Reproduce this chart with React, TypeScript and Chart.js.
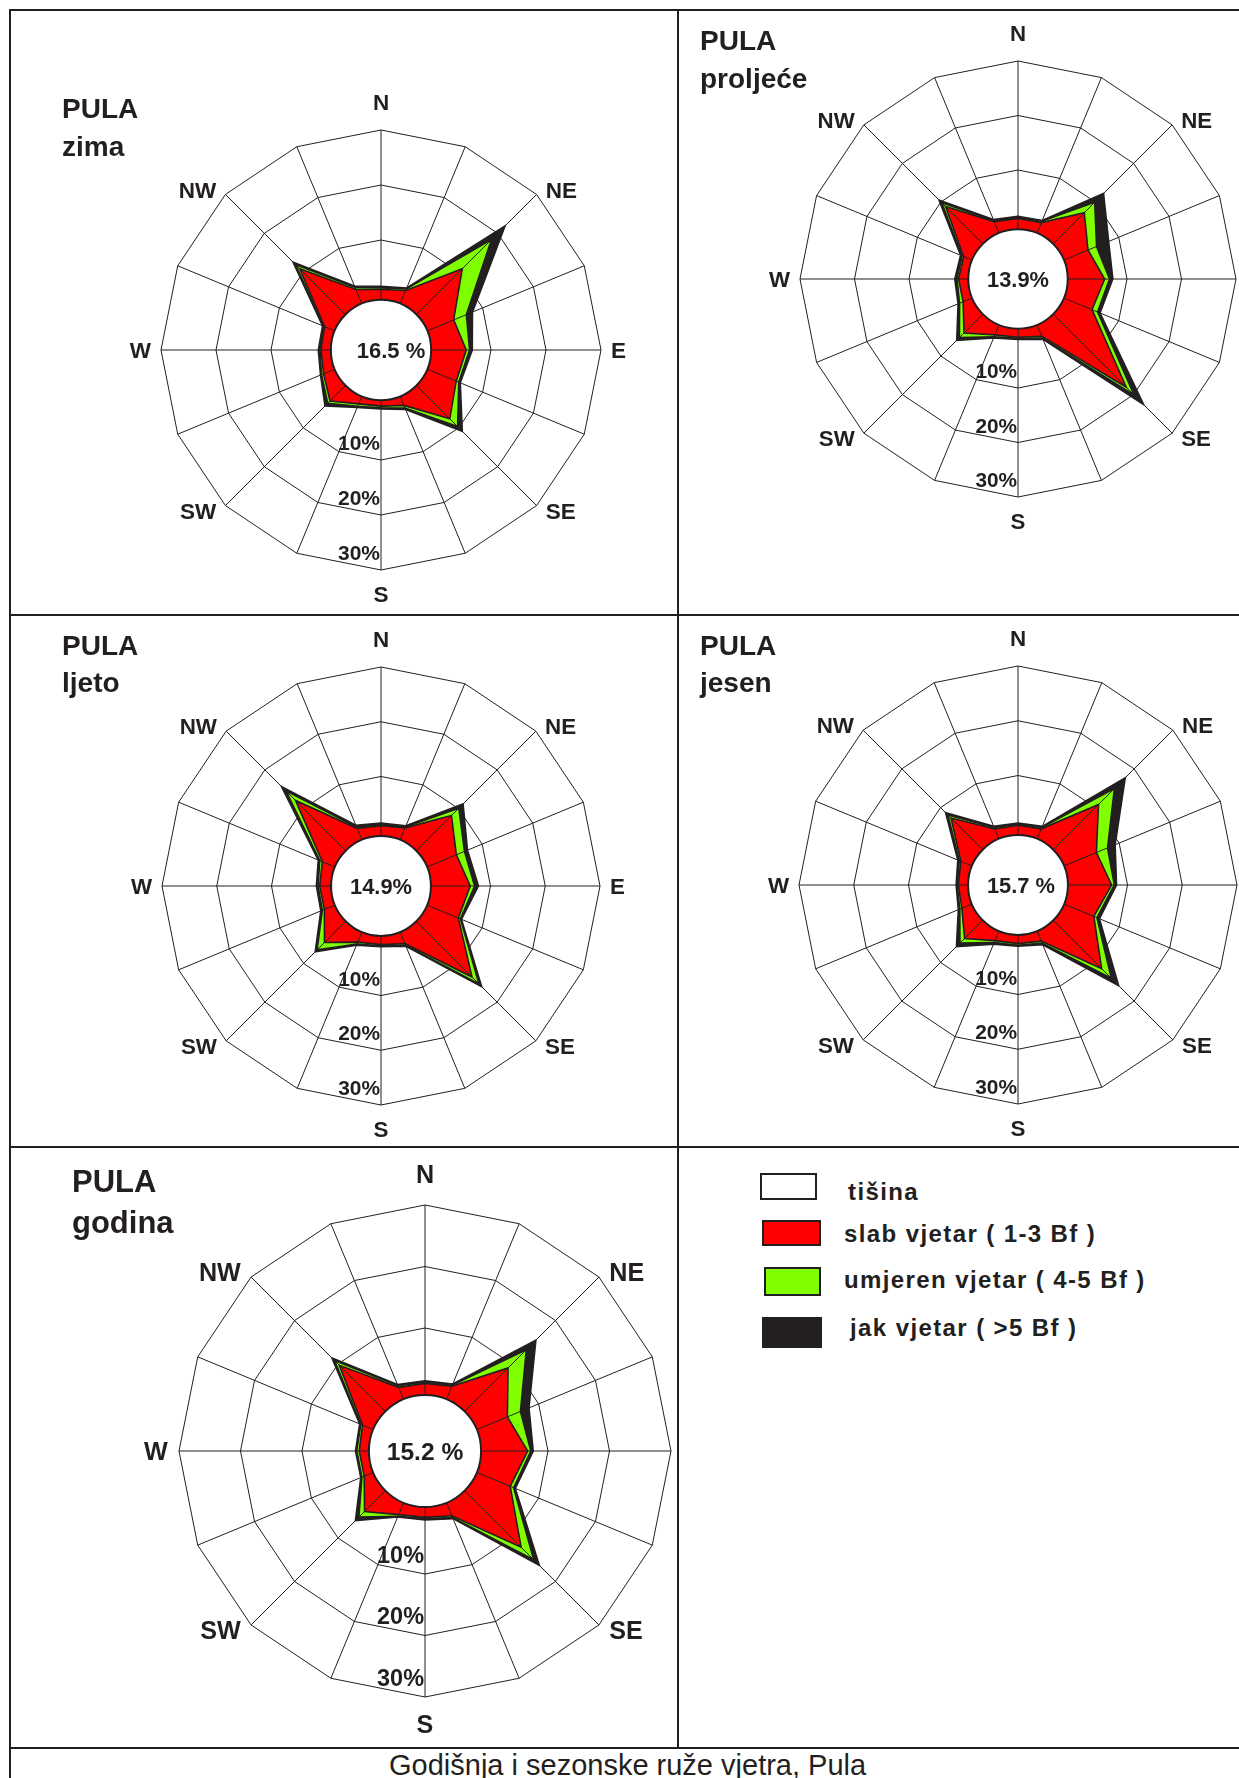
import React, { useEffect, useRef } from 'react';
import { Chart, registerables } from 'chart.js';

Chart.register(...registerables);

const DIRECTIONS = ['N', 'NNE', 'NE', 'ENE', 'E', 'ESE', 'SE', 'SSE', 'S', 'SSW', 'SW', 'WSW', 'W', 'WNW', 'NW', 'NNW'];
const RING_TICKS = [10, 20, 30];

// frequencies in %, N clockwise
const zimaSlab = [1.0, 1.7, 10.9, 4.3, 5.5, 4.8, 7.7, 0.9, 0.2, 0.6, 3.1, 1.3, 0.9, 1.1, 10.9, 1.9];
const zimaUmjeren = [0.3, 0.3, 7.5, 2.5, 0.6, 0.5, 2.0, 0.5, 0.3, 0.5, 0.6, 0.4, 0.2, 0.2, 1.1, 0.4];
const zimaJak = [0.3, 0.2, 3.5, 1.2, 0.5, 0.3, 1.2, 0.3, 0.2, 0.2, 0.7, 0.2, 0.3, 0.2, 0.6, 0.3];

const proljeceSlab = [1.1, 1.2, 7.2, 3.9, 5.9, 4.7, 18.1, 1.4, 0.7, 1.1, 4.0, 0.9, 0.9, 0.8, 8.8, 1.4];
const proljeceUmjeren = [0.2, 0.3, 2.7, 1.7, 0.9, 1.1, 2.0, 0.4, 0.2, 0.4, 1.2, 0.7, 0.3, 0.3, 1.0, 0.2];
const proljeceJak = [0.2, 0.1, 2.3, 2.4, 0.6, 0.5, 2.5, 0.2, 0.2, 0.2, 0.7, 0.3, 0.4, 0.3, 0.7, 0.2];

const ljetoSlab = [1.0, 1.5, 8.2, 4.9, 6.3, 5.3, 13.5, 1.4, 0.7, 1.1, 4.6, 1.2, 1.2, 1.6, 12.1, 1.4];
const ljetoUmjeren = [0.2, 0.2, 1.9, 1.6, 0.8, 0.4, 1.8, 0.3, 0.2, 0.4, 1.9, 0.4, 0.3, 0.5, 2.4, 0.3];
const ljetoJak = [0.3, 0.2, 1.1, 0.6, 0.7, 0.2, 0.7, 0.2, 0.2, 0.2, 0.5, 0.3, 0.3, 0.3, 1.2, 0.3];

const jesenSlab = [0.9, 1.1, 10.8, 5.5, 7.1, 5.0, 11.6, 1.1, 0.7, 1.0, 3.8, 1.1, 0.9, 1.3, 7.3, 1.1];
const jesenUmjeren = [0.2, 0.3, 4.1, 2.2, 0.5, 0.6, 2.5, 0.4, 0.3, 0.4, 1.2, 0.4, 0.2, 0.3, 0.8, 0.3];
const jesenJak = [0.2, 0.2, 2.8, 1.5, 0.4, 0.5, 1.9, 0.3, 0.2, 0.3, 0.9, 0.3, 0.2, 0.3, 0.6, 0.2];

const godinaSlab = [1.0, 1.4, 9.1, 4.5, 6.7, 5.0, 12.1, 1.4, 0.8, 1.2, 3.9, 0.7, 0.7, 1.0, 9.7, 1.2];
const godinaUmjeren = [0.2, 0.2, 4.2, 2.3, 0.5, 0.6, 2.9, 0.3, 0.2, 0.3, 1.3, 0.4, 0.4, 0.3, 1.1, 0.3];
const godinaJak = [0.2, 0.2, 2.2, 1.5, 0.4, 0.3, 1.3, 0.2, 0.2, 0.1, 0.8, 0.2, 0.2, 0.2, 0.6, 0.2];

const INK = '#231f20';
const RED = '#ff0000';
const GREEN = '#80ff00';
const FONT = '"Liberation Sans", Arial, Helvetica, sans-serif';

type RoseProps = {
  left: number;
  top: number;
  width: number;
  height: number;
  cx: number;
  cy: number;
  radius: number;
  season: string;
  titleX: number;
  titleY: number;
  seasonY: number;
  titleSize: number;
  calm: string;
  calmDx: number;
  slab: number[];
  umjeren: number[];
  jak: number[];
};

function WindRose(props: RoseProps) {
  const canvasRef = useRef<HTMLCanvasElement>(null);

  useEffect(() => {
    if (!canvasRef.current) return;
    const { left, top, width, height, cx, cy, radius, slab, umjeren, jak } = props;

    const moderate = slab.map((v, i) => v + umjeren[i]);
    const total = moderate.map((v, i) => v + jak[i]);

    const overlay = {
      id: 'roseOverlay',
      afterDatasetsDraw(chart: any) {
        const scale = chart.scales.r;
        const ctx = chart.ctx;
        const R = scale.drawingArea;
        const x0 = scale.xCenter;
        const y0 = scale.yCenter;
        const k = R / 220;
        ctx.save();

        // spokes on top of the fill
        ctx.strokeStyle = INK;
        ctx.lineWidth = 1;
        DIRECTIONS.forEach((_, i) => {
          const p = scale.getPointPositionForValue(i, scale.max);
          ctx.beginPath();
          ctx.moveTo(x0, y0);
          ctx.lineTo(p.x, p.y);
          ctx.stroke();
        });

        // calm circle
        ctx.beginPath();
        ctx.arc(x0, y0, R * 0.228, 0, Math.PI * 2);
        ctx.fillStyle = '#fff';
        ctx.fill();
        ctx.lineWidth = 2;
        ctx.stroke();

        ctx.fillStyle = INK;
        ctx.textBaseline = 'alphabetic';

        let size = 22 * k;
        ctx.font = `bold ${size}px ${FONT}`;
        ctx.textAlign = 'center';
        ctx.fillText(props.calm, x0 + props.calmDx, y0 + size * 0.36);

        // ring labels along S
        size = 21 * k;
        ctx.font = `bold ${size}px ${FONT}`;
        ctx.textAlign = 'right';
        RING_TICKS.forEach((v) => {
          const p = scale.getPointPosition(8, scale.getDistanceFromCenterForValue(v - 3.2));
          ctx.fillText(`${v}%`, x0 - 1, p.y + size * 0.36);
        });

        // direction labels
        size = 22.5 * k;
        const cap = size * 0.716;
        ctx.font = `bold ${size}px ${FONT}`;
        DIRECTIONS.forEach((name, i) => {
          if (i % 2) return;
          let x: number;
          let y: number;
          let align = 'center';
          if (i === 0) {
            const p = scale.getPointPosition(0, R + 20 * k);
            x = p.x;
            y = p.y;
          } else if (i === 8) {
            const p = scale.getPointPosition(8, R + 16 * k);
            x = p.x;
            y = p.y + cap;
          } else if (i === 4 || i === 12) {
            const p = scale.getPointPosition(i, R + 10 * k);
            x = p.x;
            y = p.y + cap / 2;
            align = i === 4 ? 'left' : 'right';
          } else {
            x = scale.getPointPosition(i, R + 13 * k).x;
            y = scale.getPointPosition(i, R + 7 * k).y + cap / 2;
            align = x > x0 ? 'left' : 'right';
          }
          ctx.textAlign = align;
          ctx.fillText(name, x, y);
        });

        // panel title
        ctx.textAlign = 'left';
        ctx.font = `bold ${props.titleSize}px ${FONT}`;
        ctx.fillText('PULA', props.titleX - left, props.titleY - top);
        ctx.fillText(props.season, props.titleX - left, props.seasonY - top);

        ctx.restore();
      },
    };

    const layer = (data: number[], color: string) => ({
      data,
      backgroundColor: color,
      borderColor: INK,
      borderWidth: 1.6,
      fill: 'start',
      pointRadius: 0,
      pointHoverRadius: 0,
      tension: 0,
    });

    const chart = new Chart(canvasRef.current, {
      type: 'radar',
      data: {
        labels: DIRECTIONS,
        datasets: [
          { label: 'slab vjetar', ...layer(slab, RED) },
          { label: 'umjeren vjetar', ...layer(moderate, GREEN) },
          { label: 'jak vjetar', ...layer(total, INK) },
        ] as any,
      },
      options: {
        responsive: false,
        animation: false,
        events: [],
        layout: {
          autoPadding: false,
          padding: {
            left: cx - radius - left,
            right: left + width - (cx + radius),
            top: cy - radius - top,
            bottom: top + height - (cy + radius),
          },
        },
        plugins: {
          legend: { display: false },
          tooltip: { enabled: false },
        },
        scales: {
          r: {
            min: -10,
            max: 30,
            ticks: { stepSize: 10, display: false },
            grid: {
              circular: false,
              lineWidth: 1,
              color: (c: any) => (c.tick && c.tick.value > 0 ? INK : 'rgba(0,0,0,0)'),
            },
            angleLines: { display: false },
            pointLabels: { display: false },
          },
        },
      } as any,
      plugins: [overlay],
    });

    return () => {
      chart.destroy();
    };
  }, []);

  return (
    <div style={{ position: 'absolute', left: props.left, top: props.top, width: props.width, height: props.height }}>
      <canvas ref={canvasRef} width={props.width} height={props.height}></canvas>
    </div>
  );
}

const line = (x: number, y: number, w: number, h: number, key: string) => (
  <div key={key} style={{ position: 'absolute', left: x, top: y, width: w, height: h, background: INK }} />
);

const legendItems = [
  { text: 'tišina', color: '#ffffff', box: [760, 1173, 57, 27], x: 848, base: 1200 },
  { text: 'slab vjetar ( 1-3 Bf )', color: RED, box: [762, 1220, 59, 26], x: 844, base: 1242 },
  { text: 'umjeren vjetar ( 4-5 Bf )', color: GREEN, box: [764, 1267, 57, 29], x: 844, base: 1288 },
  { text: 'jak vjetar ( >5 Bf )', color: INK, box: [762, 1317, 60, 31], x: 850, base: 1336 },
];

export default function App() {
  const legendSize = 24;
  const captionSize = 29;
  return (
    <div style={{ position: 'absolute', left: 0, top: 0, width: 1239, height: 1778, overflow: 'hidden', background: '#fff' }}>
      <WindRose left={11} top={11} width={666} height={603} cx={381} cy={350} radius={220}
        season="zima" titleX={62} titleY={118} seasonY={156} titleSize={28} calm="16.5 %" calmDx={10}
        slab={zimaSlab} umjeren={zimaUmjeren} jak={zimaJak} />
      <WindRose left={679} top={11} width={560} height={603} cx={1018} cy={279} radius={218}
        season="proljeće" titleX={700} titleY={50} seasonY={88} titleSize={28} calm="13.9%" calmDx={0}
        slab={proljeceSlab} umjeren={proljeceUmjeren} jak={proljeceJak} />
      <WindRose left={11} top={616} width={666} height={530} cx={381} cy={886} radius={219}
        season="ljeto" titleX={62} titleY={655} seasonY={692} titleSize={28} calm="14.9%" calmDx={0}
        slab={ljetoSlab} umjeren={ljetoUmjeren} jak={ljetoJak} />
      <WindRose left={679} top={616} width={560} height={530} cx={1018} cy={885} radius={219}
        season="jesen" titleX={700} titleY={655} seasonY={692} titleSize={28} calm="15.7 %" calmDx={3}
        slab={jesenSlab} umjeren={jesenUmjeren} jak={jesenJak} />
      <WindRose left={11} top={1148} width={666} height={599} cx={425} cy={1451} radius={246}
        season="godina" titleX={72} titleY={1192} seasonY={1233} titleSize={31} calm="15.2 %" calmDx={0}
        slab={godinaSlab} umjeren={godinaUmjeren} jak={godinaJak} />

      {/* table rules */}
      {line(9, 9, 1230, 2, 'top')}
      {line(9, 614, 1230, 2, 'r1')}
      {line(9, 1146, 1230, 2, 'r2')}
      {line(9, 1747, 1230, 2, 'r3')}
      {line(9, 9, 2, 1769, 'left')}
      {line(677, 9, 2, 1739, 'mid')}

      {legendItems.map((it) => (
        <React.Fragment key={it.text}>
          <div style={{
            position: 'absolute', left: it.box[0], top: it.box[1], width: it.box[2], height: it.box[3],
            boxSizing: 'border-box', border: `2px solid ${INK}`, background: it.color,
          }} />
          <div style={{
            position: 'absolute', left: it.x, top: it.base - 0.8465 * legendSize,
            font: `bold ${legendSize}px ${FONT}`, lineHeight: `${legendSize}px`, letterSpacing: '1.4px',
            color: INK, whiteSpace: 'nowrap',
          }}>{it.text}</div>
        </React.Fragment>
      ))}

      <div style={{
        position: 'absolute', left: 389, top: 1776 - 0.8465 * captionSize,
        font: `${captionSize}px ${FONT}`, lineHeight: `${captionSize}px`, color: INK, whiteSpace: 'nowrap',
      }}>Godišnja i sezonske ruže vjetra, Pula</div>
    </div>
  );
}
